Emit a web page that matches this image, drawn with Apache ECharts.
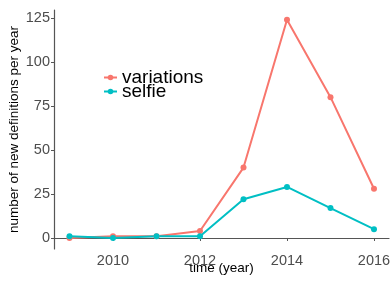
<!DOCTYPE html>
<html>
<head>
<meta charset="utf-8">
<script src="https://cdn.jsdelivr.net/npm/echarts@6/dist/echarts.min.js"></script>
<style>
  html, body { margin: 0; padding: 0; background: #fff; }
  #main { width: 391px; height: 281px; }
</style>
</head>
<body>
<div id="main"></div>
<script>
// data
let years = [2009, 2010, 2011, 2012, 2013, 2014, 2015, 2016];
let variations = [0, 1, 1, 4, 40, 124, 80, 28];
let selfie = [1, 0, 1, 1, 22, 29, 17, 5];
let xTicks = [2010, 2012, 2014, 2016];
let yTicks = [0, 25, 50, 75, 100, 125];

let font = "Liberation Sans, Arial, sans-serif";

let options = {
  animation: false,
  textStyle: { fontFamily: font },
  grid: { left: 54, right: 2, top: 10, bottom: 32, containLabel: false, outerBoundsMode: "none" },
  legend: {
    orient: "vertical",
    left: 98,
    top: 63,
    itemWidth: 13,
    itemHeight: 7,
    itemGap: -5,
    itemTextGap: 0,
    textStyle: { fontSize: 19, color: "#000", fontFamily: font },
    data: ["variations", "selfie"],
  },
  xAxis: {
    type: "value",
    min: 2008.644,
    max: 2016.345,
    name: "time (year)",
    nameLocation: "middle",
    nameGap: 12,
    nameMoveOverlap: false,
    nameTextStyle: { fontSize: 13.5, color: "#000", fontFamily: font },
    axisLine: { lineStyle: { color: "#555", width: 1.2 } },
    axisTick: { show: true, length: 3, lineStyle: { color: "#555" }, customValues: xTicks },
    axisLabel: {
      fontSize: 14.5, color: "#4D4D4D", margin: 4, customValues: xTicks,
      formatter: (v) => String(v),
    },
    splitLine: { show: false },
  },
  yAxis: {
    type: "value",
    min: -6.25,
    max: 129.5,
    name: "number of new definitions per year",
    nameLocation: "middle",
    nameGap: 33,
    nameMoveOverlap: false,
    nameTextStyle: { fontSize: 13.5, color: "#000", fontFamily: font },
    axisLine: { show: true, lineStyle: { color: "#555", width: 1.2 } },
    axisTick: { show: true, length: 3, lineStyle: { color: "#555" }, customValues: yTicks },
    axisLabel: { fontSize: 14.5, color: "#4D4D4D", margin: 4, customValues: yTicks },
    splitLine: { show: false },
  },
  series: [
    {
      name: "variations",
      type: "line",
      data: years.map((y, i) => [y, variations[i]]),
      color: "#F8766D",
      symbol: "circle",
      symbolSize: 6,
      lineStyle: { width: 2 },
    },
    {
      name: "selfie",
      type: "line",
      data: years.map((y, i) => [y, selfie[i]]),
      color: "#00BFC4",
      symbol: "circle",
      symbolSize: 6,
      lineStyle: { width: 2 },
    },
  ],
};

let myChart = echarts.init(document.getElementById("main"));
myChart.setOption(options);
</script>
</body>
</html>
